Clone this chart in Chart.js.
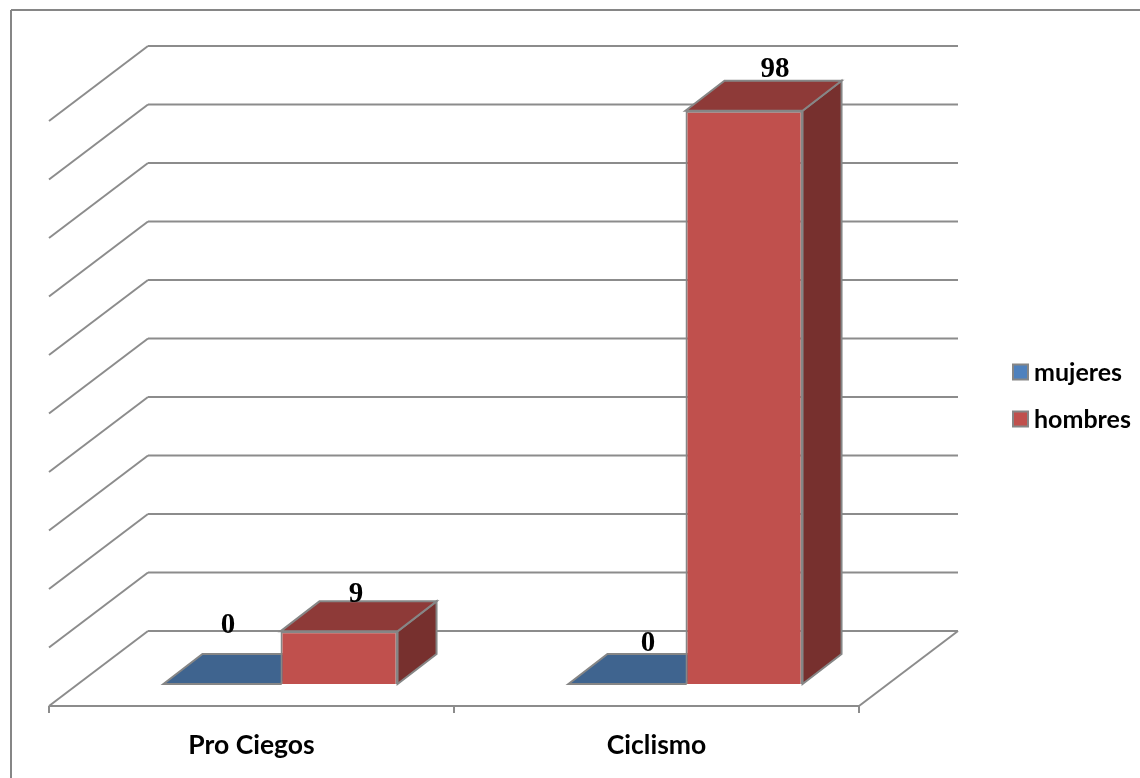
<!DOCTYPE html>
<html>
<head>
<meta charset="utf-8">
<style>
  html, body { margin: 0; padding: 0; background: #fff; }
  canvas { display: block; }
</style>
</head>
<body>
<canvas id="chart" width="1140" height="778"></canvas>
<script src="https://cdn.jsdelivr.net/npm/chart.js@4"></script>
<script>
const categories = ['Pro Ciegos', 'Ciclismo'];
const seriesNames = ['mujeres', 'hombres'];
const mujeres = [0, 0];
const hombres = [9, 98];

const GREY = '#868686';
const LINE = '#8c8c8c';
const FRONT = ['#4f81bd', '#c0504d'];
const TOP = ['#3f648f', '#8e3a38'];
const SIDE = ['#335477', '#77302e'];

// depth of a bar, and of the whole floor in front of / behind the bars
const BAR_DX = 39, BAR_DY = -30;
const BACK_DX = 70, BACK_DY = -53;
const FRONT_DX = -29, FRONT_DY = 22;
// the data labels sit by hand in the original, [series][category]
const labelShift = [[[6, -58], [21, -40]], [[17, -37], [31, -41]]];

function poly(ctx, pts, fill) {
    ctx.beginPath();
    pts.forEach((p, i) => i ? ctx.lineTo(p[0], p[1]) : ctx.moveTo(p[0], p[1]));
    ctx.closePath();
    if (fill) { ctx.fillStyle = fill; ctx.fill(); }
    ctx.stroke();
}

function seg(ctx, x0, y0, x1, y1) {
    ctx.beginPath();
    ctx.moveTo(x0, y0);
    ctx.lineTo(x1, y1);
    ctx.stroke();
}

const box3d = {
    id: 'box3d',
    beforeDatasetsDraw(chart) {
        const { ctx, chartArea: a, scales: { y } } = chart;
        const fx0 = a.left + FRONT_DX, fx1 = a.right + FRONT_DX;
        const bx0 = a.left + BACK_DX, bx1 = a.right + BACK_DX;
        ctx.save();

        // outer frame, only its top and left edges are inside the picture
        ctx.strokeStyle = GREY;
        ctx.lineWidth = 2;
        seg(ctx, 11, 778, 11, 10);
        seg(ctx, 11, 10, 1140, 10);

        // walls
        ctx.strokeStyle = LINE;
        y.ticks.forEach(t => {
            const py = y.getPixelForValue(t.value);
            seg(ctx, fx0, py + FRONT_DY, bx0, py + BACK_DY);
            seg(ctx, bx0, py + BACK_DY, bx1, py + BACK_DY);
        });

        // floor
        const by = y.getPixelForValue(0);
        seg(ctx, bx1, by + BACK_DY, fx1, by + FRONT_DY);
        seg(ctx, fx0, by + FRONT_DY, fx1, by + FRONT_DY);
        for (let i = 0; i <= categories.length; i++) {
            const tx = fx0 + i * (a.width / categories.length);
            seg(ctx, tx, by + FRONT_DY, tx, by + FRONT_DY + 7);
        }

        // bar top and side faces
        ctx.strokeStyle = GREY;
        chart.data.datasets.forEach((ds, s) => {
            chart.getDatasetMeta(s).data.forEach(bar => {
                const l = bar.x - bar.width / 2, r = bar.x + bar.width / 2;
                poly(ctx, [[r, bar.y], [r + BAR_DX, bar.y + BAR_DY], [r + BAR_DX, bar.base + BAR_DY], [r, bar.base]], SIDE[s]);
                poly(ctx, [[l, bar.y], [r, bar.y], [r + BAR_DX, bar.y + BAR_DY], [l + BAR_DX, bar.y + BAR_DY]], TOP[s]);
            });
        });
        ctx.restore();
    },
    afterDatasetsDraw(chart) {
        const { ctx } = chart;
        ctx.save();

        // data labels
        ctx.fillStyle = '#000';
        ctx.font = 'bold 29px "Liberation Serif"';
        ctx.textAlign = 'center';
        ctx.textBaseline = 'middle';
        chart.data.datasets.forEach((ds, s) => {
            chart.getDatasetMeta(s).data.forEach((bar, c) => {
                const sh = labelShift[s][c];
                ctx.fillText(ds.data[c], bar.x + sh[0], bar.y + sh[1]);
            });
        });

        // legend
        ctx.font = 'bold 25px Lato';
        ctx.textAlign = 'left';
        ctx.lineWidth = 2;
        ctx.strokeStyle = GREY;
        seriesNames.forEach((name, i) => {
            const ly = 372 + i * 47;
            ctx.fillStyle = FRONT[i];
            ctx.fillRect(1013, ly - 7.5, 15, 15);
            ctx.strokeRect(1013, ly - 7.5, 15, 15);
            ctx.fillStyle = '#000';
            ctx.fillText(name, 1034, ly + 1);
        });
        ctx.restore();
    }
};

new Chart(document.getElementById('chart'), {
    type: 'bar',
    data: {
        labels: categories,
        datasets: [
            { label: seriesNames[0], data: mujeres, backgroundColor: FRONT[0] },
            { label: seriesNames[1], data: hombres, backgroundColor: FRONT[1] }
        ].map(d => Object.assign(d, {
            borderColor: GREY,
            borderWidth: 2,
            categoryPercentage: 0.578,
            barPercentage: 1
        }))
    },
    options: {
        responsive: false,
        animation: false,
        layout: { padding: { left: 78, right: 252, top: 99, bottom: 0 } },
        plugins: { legend: { display: false }, tooltip: { enabled: false } },
        scales: {
            x: {
                grid: { display: false },
                border: { display: false },
                afterFit(scale) { scale.height = 94; },
                ticks: {
                    color: '#000',
                    font: { family: 'Lato', size: 26.5, weight: 'bold' },
                    padding: 38,
                    labelOffset: FRONT_DX,
                    maxRotation: 0,
                    autoSkip: false
                }
            },
            y: {
                display: false,
                min: 0,
                max: 100,
                ticks: { stepSize: 10 }
            }
        }
    },
    plugins: [box3d]
});
</script>
</body>
</html>
